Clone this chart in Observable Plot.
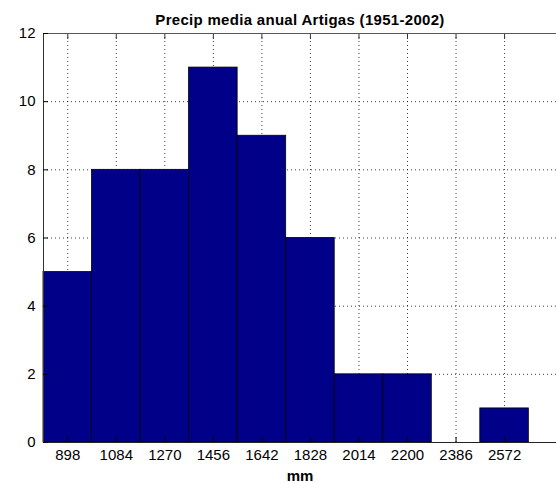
<!DOCTYPE html>
<html><head><meta charset="utf-8">
<script src="https://cdn.jsdelivr.net/npm/d3@7"></script>
<script src="https://cdn.jsdelivr.net/npm/@observablehq/plot@0.6"></script>
<style>body{margin:0;background:#fff}</style>
</head><body><div id="chart"></div>
<script>
const binCenters = [898, 1084, 1270, 1456, 1642, 1828, 2014, 2200, 2386, 2572];
const counts = [5, 8, 8, 11, 9, 6, 2, 2, 0, 1];
const binWidth = 186;
const yTicks = [0, 2, 4, 6, 8, 10, 12];
const titleText = "Precip media anual Artigas (1951-2002)";
const xLabel = "mm";

const data = binCenters.map((c, i) => ({x1: c - binWidth / 2, x2: c + binWidth / 2, count: counts[i]}));
const xMin = binCenters[0] - binWidth / 2;

const chart = Plot.plot({
  width: 556, height: 483,
  marginLeft: 43, marginRight: 0, marginTop: 33, marginBottom: 41,
  style: {fontFamily: "'Liberation Sans', Arial, sans-serif", fontSize: "14px", background: "#fff", color: "#000"},
  x: {domain: [xMin, 2771]},
  y: {domain: [0, 12]},
  marks: [
    Plot.gridX(binCenters, {stroke: "#000", strokeOpacity: 0.75, strokeDasharray: "1,3"}),
    Plot.gridY(yTicks, {stroke: "#000", strokeOpacity: 0.75, strokeDasharray: "1,3"}),
    Plot.rectY(data, {x1: "x1", x2: "x2", y: "count", fill: "#000088", stroke: "#000", strokeWidth: 0.8}),
    Plot.ruleY([0], {stroke: "#222"}),
    Plot.ruleY([12], {stroke: "#555", strokeWidth: 1.2}),
    Plot.ruleX([xMin], {stroke: "#333"}),
    Plot.axisX(binCenters, {anchor: "bottom", tickSize: -5, tickPadding: 12, tickFormat: d => String(d), label: null, fontSize: 15}),
    Plot.axisX(binCenters, {anchor: "top", tickSize: -5, tickFormat: () => "", label: null, stroke: "#333"}),
    Plot.axisY(yTicks, {anchor: "left", tickSize: -5, tickPadding: 13, label: null, fontSize: 15}),
    Plot.text([titleText], {frameAnchor: "top", dy: -13, lineAnchor: "middle", fontWeight: "bold", fontSize: 15, style: "letter-spacing:0.3px"}),
    Plot.text([xLabel], {frameAnchor: "bottom", dy: 34, lineAnchor: "middle", fontWeight: "bold", fontSize: 15})
  ]
});
chart.querySelectorAll("text").forEach(t => { if (t.textContent === titleText) t.style.letterSpacing = "0.3px"; });
document.getElementById("chart").append(chart);
</script>
</body></html>
